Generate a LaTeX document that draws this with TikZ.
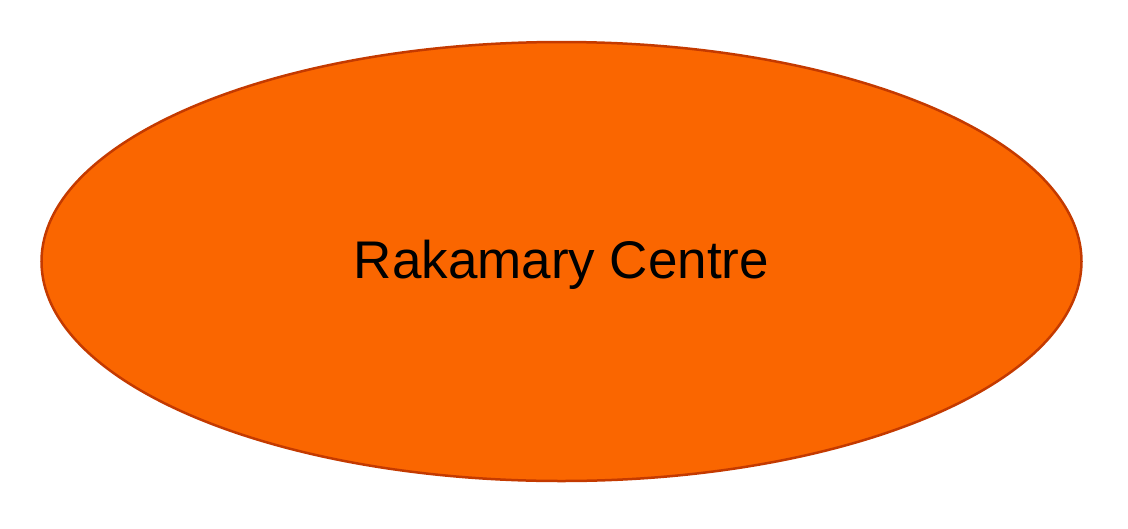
\documentclass[tikz,border=0pt]{standalone}
\usepackage{fontspec}
\setmainfont{Liberation Sans}
\usetikzlibrary{shapes.geometric}
\definecolor{fillor}{HTML}{FA6600}
\definecolor{edgeor}{HTML}{C43A00}
\begin{document}
\begin{tikzpicture}[x=1pt,y=-1pt,
  blob/.style={ellipse, draw=edgeor, fill=fillor, line width=2.5pt, minimum width=1040pt, minimum height=439pt, inner sep=0pt, font=\fontsize{53}{60}\selectfont}]
\useasboundingbox (0,0) rectangle (1128,528);
\node[blob] (c) at (561.5,261.5) {\raisebox{-3pt}[\height][\depth]{Rakamary Centre}};
\end{tikzpicture}
\end{document}
